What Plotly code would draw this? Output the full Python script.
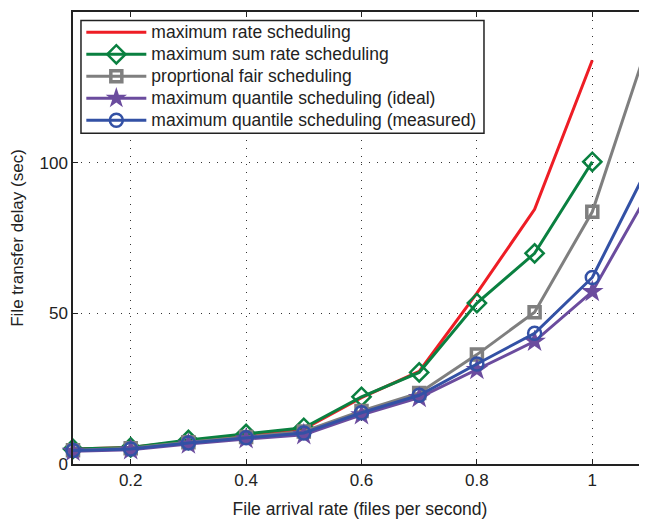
import plotly.graph_objects as go

x_all = [0.1, 0.2, 0.3, 0.4, 0.5, 0.6, 0.7, 0.8, 0.9, 1.0, 1.1]
x_short = [0.1, 0.2, 0.3, 0.4, 0.5, 0.6, 0.7, 0.8, 0.9, 1.0]

max_rate = [5.0, 5.5, 7.6, 9.6, 11.6, 22.0, 30.7, 56.7, 84.5, 134.0]
max_sum_rate = [5.0, 5.5, 8.0, 10.0, 12.0, 22.3, 30.4, 53.4, 69.9, 100.3]
prop_fair = [4.6, 5.2, 7.2, 9.0, 10.8, 17.6, 23.6, 36.3, 50.4, 83.7, 141.5]
mq_ideal = [4.2, 4.7, 6.6, 8.3, 9.7, 16.3, 22.0, 31.3, 40.7, 57.2, 90.9]
mq_measured = [4.5, 5.0, 7.0, 8.7, 10.3, 17.0, 22.8, 33.2, 43.4, 61.9, 99.9]

names = [
    "maximum rate scheduling",
    "maximum sum rate scheduling",
    "proprtional fair scheduling",
    "maximum quantile scheduling (ideal)",
    "maximum quantile scheduling (measured)",
]

RED = "#EE1D25"
GREEN = "#0A8040"
GRAY = "#7F7F7F"
PURPLE = "#6B4C9E"
BLUE = "#3351A5"


def lab(s):
    return '<span style="font-size:17.5px">' + s + "</span>"


fig = go.Figure()
fig.add_trace(go.Scatter(x=x_short, y=max_rate, name=lab(names[0]), mode="lines",
                         line=dict(color=RED, width=3), cliponaxis=False))
fig.add_trace(go.Scatter(x=x_short, y=max_sum_rate, name=lab(names[1]), mode="lines+markers",
                         line=dict(color=GREEN, width=3), cliponaxis=False,
                         marker=dict(symbol="diamond-open", size=14, line=dict(width=2.5, color=GREEN))))
fig.add_trace(go.Scatter(x=x_all, y=prop_fair, name=lab(names[2]), mode="lines+markers",
                         line=dict(color=GRAY, width=3), cliponaxis=False,
                         marker=dict(symbol="square-open", size=11, line=dict(width=3.5, color=GRAY))))
fig.add_trace(go.Scatter(x=x_all, y=mq_ideal, name=lab(names[3]), mode="lines+markers",
                         line=dict(color=PURPLE, width=3), cliponaxis=False,
                         marker=dict(symbol="star", size=17, color=PURPLE, line=dict(width=0))))
fig.add_trace(go.Scatter(x=x_all, y=mq_measured, name=lab(names[4]), mode="lines+markers",
                         line=dict(color=BLUE, width=3), cliponaxis=False,
                         marker=dict(symbol="circle-open", size=13, line=dict(width=2.5, color=BLUE))))

font = "Liberation Sans, Arial, sans-serif"
grid = dict(showgrid=True, gridcolor="#333333", griddash="1px,7px", gridwidth=1)
# The page body has an 8px default margin, so the figure is sized to fit the window.
fig.update_layout(
    width=639, height=513,
    margin=dict(l=65, r=0, t=3.5, b=56.5),
    plot_bgcolor="white", paper_bgcolor="white",
    font=dict(family=font, size=16, color="#222222"),
    showlegend=True,
    legend=dict(x=0.0145, y=0.9905, xanchor="left", yanchor="top",
                borderwidth=0, bgcolor="rgba(0,0,0,0)",
                font=dict(size=14.6, color="#222222"), itemwidth=60,
                tracegroupgap=0),
    shapes=[dict(type="rect", xref="paper", yref="paper",
                 x0=0.0139, x1=0.716, y0=0.7318, y1=0.9812,
                 fillcolor="white", line=dict(color="#222222", width=1.5),
                 layer="above")],
    xaxis=dict(range=[0.1, 1.0948], tickvals=[0.2, 0.4, 0.6, 0.8, 1.0],
               ticktext=["0.2", "0.4", "0.6", "0.8", "1"],
               showline=True, linecolor="#222222", linewidth=1.5, mirror="ticks",
               ticks="inside", ticklen=5, tickcolor="#222222",
               zeroline=False, automargin=False,
               title=dict(text="File arrival rate (files per second)", standoff=14,
                          font=dict(family=font, size=17.5, color="#222222")),
               tickfont=dict(family=font, size=17, color="#222222"), **grid),
    yaxis=dict(range=[0, 150], tickvals=[0, 50, 100, 150],
               showline=True, linecolor="#222222", linewidth=1.5,
               ticks="inside", ticklen=5, tickcolor="#222222",
               zeroline=False, automargin=False,
               title=dict(text="File transfer delay (sec)", standoff=14,
                          font=dict(family=font, size=17, color="#222222")),
               tickfont=dict(family=font, size=17, color="#222222"), **grid),
)

fig.write_html("out.html")
